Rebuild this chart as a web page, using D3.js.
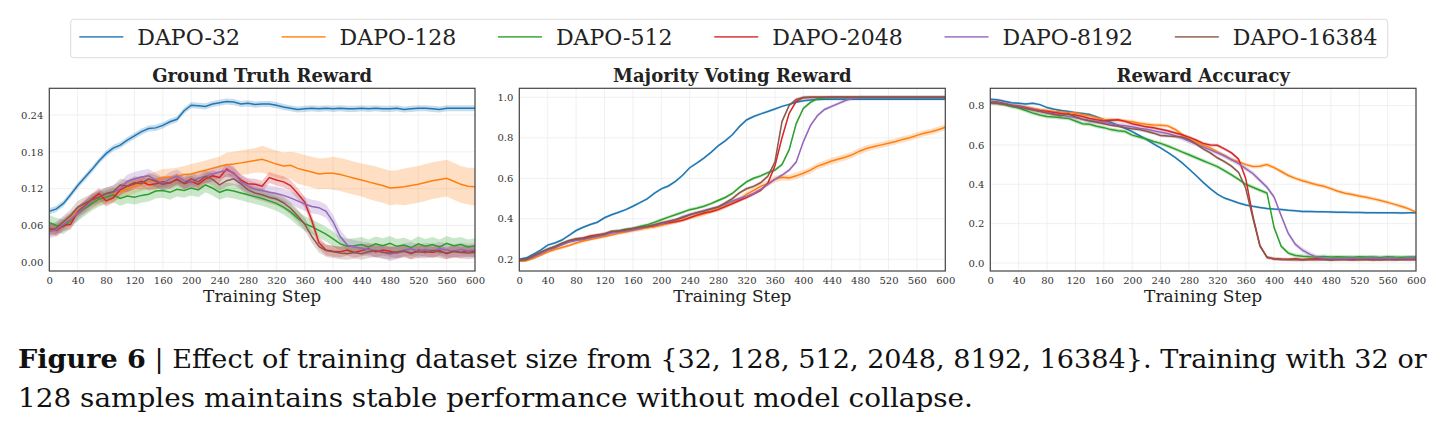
<!DOCTYPE html>
<html>
<head>
<meta charset="utf-8">
<script src="https://cdn.jsdelivr.net/npm/d3@7"></script>
<style>
body { margin: 0; background: #fff; }
svg { display: block; }
</style>
</head>
<body>
<div id="chart-area"></div>
<script>
var width = 1446;
var height = 431;

var labels = ["DAPO-32", "DAPO-128", "DAPO-512", "DAPO-2048", "DAPO-8192", "DAPO-16384"];
var colors = ["#1f77b4", "#ff7f0e", "#2ca02c", "#d62728", "#9467bd", "#8c564b"];
var steps = d3.range(0, 601, 10);
var xTicks = d3.range(0, 601, 40);

// Ground Truth Reward
var gt32 = [.083,.087,.096,.110,.125,.138,.151,.165,.177,.186,
 .191,.199,.206,.213,.218,.219,.223,.229,.233,.247,
 .256,.255,.254,.258,.260,.262,.261,.258,.259,.257,
 .258,.258,.256,.253,.251,.249,.250,.251,.250,.251,
 .250,.251,.250,.250,.251,.250,.251,.250,.250,.251,
 .249,.250,.251,.251,.250,.249,.251,.251,.251,.251,.251];
var gt128 = [.055,.052,.062,.072,.083,.090,.097,.103,.106,.110,
 .115,.120,.124,.128,.131,.134,.138,.139,.140,.143,
 .144,.147,.150,.153,.156,.159,.160,.162,.164,.166,
 .168,.164,.160,.157,.158,.153,.150,.147,.144,.145,
 .145,.143,.140,.137,.134,.131,.128,.125,.121,.122,
 .123,.125,.127,.130,.133,.135,.137,.132,.127,.124,.123];
var gt512 = [.065,.060,.058,.068,.079,.088,.096,.103,.106,.110,
 .104,.108,.106,.109,.111,.116,.117,.114,.119,.117,
 .121,.118,.126,.121,.114,.118,.116,.113,.110,.107,
 .104,.100,.096,.090,.082,.072,.063,.058,.052,.046,
 .038,.030,.026,.027,.029,.025,.030,.027,.031,.026,
 .028,.024,.030,.026,.029,.025,.031,.027,.029,.025,.027];
var gt2048 = [.055,.052,.060,.062,.082,.092,.103,.112,.100,.105,
 .118,.124,.128,.132,.126,.128,.131,.129,.136,.128,
 .132,.127,.136,.141,.138,.152,.145,.134,.128,.127,
 .124,.138,.134,.131,.125,.112,.098,.068,.032,.020,
 .018,.017,.020,.016,.019,.022,.017,.020,.018,.015,
 .019,.014,.020,.018,.016,.019,.014,.018,.016,.019,.017];
var gt8192 = [.050,.053,.062,.070,.080,.090,.100,.107,.111,.114,
 .120,.132,.136,.139,.141,.134,.128,.136,.140,.133,
 .130,.137,.140,.144,.147,.150,.146,.131,.124,.119,
 .117,.114,.112,.109,.105,.100,.095,.091,.089,.083,
 .066,.042,.028,.025,.023,.021,.019,.017,.013,.016,
 .020,.022,.018,.021,.019,.022,.020,.018,.021,.019,.020];
var gt16384 = [.052,.056,.066,.076,.090,.096,.102,.106,.112,.115,
 .126,.124,.130,.128,.136,.132,.127,.130,.134,.129,
 .136,.131,.140,.135,.126,.133,.136,.128,.118,.113,
 .110,.106,.103,.097,.088,.076,.062,.042,.026,.019,
 .017,.015,.014,.016,.014,.017,.019,.016,.015,.017,
 .018,.015,.017,.016,.019,.017,.015,.018,.016,.015,.016];

// Majority Voting Reward
var mv32 = [.200,.207,.225,.245,.270,.280,.295,.318,.342,.358,
 .372,.383,.405,.420,.432,.445,.462,.480,.498,.525,
 .548,.562,.585,.615,.652,.675,.700,.728,.760,.785,
 .815,.855,.888,.905,.918,.930,.942,.955,.965,.975,
 .983,.987,.989,.990,.990,.990,.990,.990,.990,.990,
 .990,.990,.990,.990,.990,.990,.990,.990,.990,.990,.990];
var mv128 = [.190,.192,.205,.220,.235,.248,.258,.268,.280,.290,
 .298,.305,.312,.320,.328,.335,.342,.348,.355,.360,
 .368,.376,.385,.395,.405,.415,.425,.438,.448,.462,
 .480,.497,.520,.540,.560,.575,.595,.605,.602,.612,
 .625,.640,.660,.672,.685,.695,.705,.718,.735,.748,
 .757,.765,.773,.782,.792,.800,.812,.822,.830,.840,.852];
var mv512 = [.195,.198,.215,.232,.250,.262,.278,.290,.298,.302,
 .310,.315,.322,.335,.340,.348,.352,.362,.370,.382,
 .395,.408,.420,.432,.445,.452,.462,.475,.490,.505,
 .525,.555,.582,.600,.612,.628,.640,.668,.740,.870,
 .945,.975,.993,.998,1,1,1,1,1,1,
 1,1,1,1,1,1,1,1,1,1,1];
var mv2048 = [.195,.200,.215,.230,.245,.258,.275,.290,.300,.305,
 .315,.320,.325,.335,.338,.345,.350,.355,.360,.365,
 .375,.380,.385,.392,.405,.418,.428,.435,.445,.460,
 .475,.490,.505,.522,.540,.575,.660,.800,.920,.980,
 .998,1,1,1,1,1,1,1,1,1,
 1,1,1,1,1,1,1,1,1,1,1];
var mv8192 = [.195,.200,.212,.228,.245,.258,.272,.285,.292,.298,
 .305,.312,.320,.330,.335,.340,.345,.352,.360,.368,
 .375,.385,.395,.410,.420,.430,.440,.450,.458,.472,
 .488,.500,.510,.525,.545,.570,.595,.615,.640,.680,
 .780,.860,.910,.940,.955,.970,.985,.995,.999,1,
 1,1,1,1,1,1,1,1,1,1,1];
var mv16384 = [.195,.200,.218,.235,.250,.262,.278,.292,.300,.303,
 .310,.318,.325,.338,.340,.345,.352,.358,.362,.370,
 .380,.388,.395,.405,.420,.430,.438,.448,.458,.478,
 .500,.528,.548,.560,.578,.610,.680,.880,.960,.990,
 .999,1,1,1,1,1,1,1,1,1,
 1,1,1,1,1,1,1,1,1,1,1];

// Reward Accuracy
var ra32 = [.832,.830,.822,.815,.812,.808,.812,.805,.790,.782,
 .775,.770,.764,.760,.755,.742,.728,.715,.700,.685,
 .668,.648,.628,.605,.585,.562,.538,.510,.478,.445,
 .410,.378,.350,.330,.318,.305,.295,.288,.282,.277,
 .274,.272,.268,.265,.262,.262,.261,.260,.259,.258,
 .258,.257,.257,.256,.256,.255,.255,.255,.254,.255,.255];
var ra128 = [.815,.812,.808,.800,.795,.790,.785,.778,.775,.770,
 .768,.765,.762,.755,.748,.738,.730,.728,.725,.722,
 .718,.710,.705,.702,.700,.697,.680,.655,.630,.615,
 .600,.585,.565,.545,.525,.515,.500,.490,.492,.500,
 .485,.465,.445,.430,.418,.408,.398,.390,.378,.365,
 .355,.348,.340,.334,.326,.318,.308,.298,.287,.275,.258];
var ra512 = [.815,.812,.805,.795,.788,.775,.762,.752,.745,.742,
 .738,.735,.722,.708,.705,.695,.688,.678,.672,.668,
 .650,.640,.630,.618,.608,.595,.580,.565,.550,.535,
 .520,.505,.490,.470,.448,.425,.400,.385,.370,.355,
 .180,.085,.050,.038,.034,.032,.031,.033,.030,.032,
 .031,.029,.032,.030,.031,.028,.032,.030,.029,.031,.030];
var ra2048 = [.820,.818,.810,.802,.798,.790,.782,.775,.770,.765,
 .760,.755,.752,.745,.735,.728,.722,.725,.728,.720,
 .708,.700,.692,.688,.680,.672,.662,.652,.640,.625,
 .608,.600,.598,.580,.560,.528,.430,.240,.090,.028,
 .022,.020,.019,.021,.018,.020,.022,.019,.017,.020,
 .021,.018,.020,.019,.017,.021,.020,.018,.019,.020,.019];
var ra8192 = [.820,.815,.810,.802,.795,.788,.780,.772,.765,.758,
 .752,.745,.740,.732,.725,.720,.715,.708,.702,.698,
 .692,.685,.680,.672,.665,.658,.648,.635,.620,.605,
 .590,.575,.560,.545,.525,.505,.480,.455,.420,.385,
 .335,.240,.150,.095,.065,.045,.030,.025,.022,.024,
 .023,.025,.022,.024,.026,.023,.025,.024,.022,.025,.025];
var ra16384 = [.815,.812,.808,.800,.792,.785,.778,.770,.762,.755,
 .748,.760,.742,.730,.722,.715,.708,.700,.695,.688,
 .682,.678,.670,.660,.648,.645,.643,.640,.628,.605,
 .580,.560,.535,.515,.492,.460,.380,.230,.085,.030,
 .020,.018,.017,.016,.015,.017,.016,.018,.015,.016,
 .017,.015,.016,.018,.016,.015,.017,.016,.018,.016,.017];

// band half-widths (one value, or one per 50 steps)
var gt128Spread = [.008,.010,.012,.014,.016,.020,.022,.025,.027,.028,.030,.030,.031];
var mv128Spread = [.006,.008,.008,.010,.010,.012,.014,.016,.016,.016,.015,.015,.015];
var gtBand = [0.005, gt128Spread, 0.012, 0.009, 0.011, 0.010];
var mvBand = [0.006, mv128Spread, 0.008, 0.008, 0.008, 0.008];
var raBand = [0.006, 0.010, 0.010, 0.008, 0.012, 0.008];

var gtTicks = [0, 0.06, 0.12, 0.18, 0.24];
var mvTicks = [0.2, 0.4, 0.6, 0.8, 1.0];
var raTicks = [0, 0.2, 0.4, 0.6, 0.8];

var panels = [
    { title: "Ground Truth Reward", series: [gt32, gt128, gt512, gt2048, gt8192, gt16384], bands: gtBand,
      domain: [-0.0142, 0.2835], ticks: gtTicks, fmt: d3.format(".2f"), left: 49.3, right: 475 },
    { title: "Majority Voting Reward", series: [mv32, mv128, mv512, mv2048, mv8192, mv16384], bands: mvBand,
      domain: [0.142, 1.0444], ticks: mvTicks, fmt: d3.format(".1f"), left: 519.3, right: 945.3 },
    { title: "Reward Accuracy", series: [ra32, ra128, ra512, ra2048, ra8192, ra16384], bands: raBand,
      domain: [-0.0407, 0.888], ticks: raTicks, fmt: d3.format(".1f"), left: 990.3, right: 1416 }
];
var plotTop = 88.3, plotBottom = 271;

var svg = d3.select("#chart-area")
    .append("svg")
    .attr("width", width)
    .attr("height", height)
    .style("font-family", "'DejaVu Serif', serif");

panels.forEach((p, pi) => {
    var x = d3.scaleLinear().domain([0, 600]).range([p.left, p.right]);
    var y = d3.scaleLinear().domain(p.domain).range([plotBottom, plotTop]);

    svg.append("clipPath").attr("id", "clip" + pi)
        .append("rect")
        .attr("x", p.left).attr("y", plotTop)
        .attr("width", p.right - p.left).attr("height", plotBottom - plotTop);

    // grid
    var grid = svg.append("g").attr("stroke", "#ececec").attr("stroke-width", 0.8);
    grid.selectAll(".vx").data(xTicks).enter().append("line")
        .attr("x1", d => x(d)).attr("x2", d => x(d))
        .attr("y1", plotTop).attr("y2", plotBottom);
    grid.selectAll(".hy").data(p.ticks).enter().append("line")
        .attr("x1", p.left).attr("x2", p.right)
        .attr("y1", d => y(d)).attr("y2", d => y(d));

    var g = svg.append("g").attr("clip-path", `url(#clip${pi})`);

    p.series.forEach((vals, si) => {
        var band = p.bands[si];
        var spread = i => typeof band === "number" ? band : band[Math.floor(steps[i] / 50)];
        var area = d3.area()
            .x((d, i) => x(steps[i]))
            .y0((d, i) => y(d - spread(i)))
            .y1((d, i) => y(d + spread(i)));
        g.append("path")
            .datum(vals)
            .attr("d", area)
            .attr("fill", colors[si])
            .attr("fill-opacity", 0.25);
    });
    p.series.forEach((vals, si) => {
        var line = d3.line()
            .x((d, i) => x(steps[i]))
            .y(d => y(d));
        g.append("path")
            .datum(vals)
            .attr("d", line)
            .attr("fill", "none")
            .attr("stroke", colors[si])
            .attr("stroke-width", 1.5);
    });

    // frame
    svg.append("rect")
        .attr("x", p.left).attr("y", plotTop)
        .attr("width", p.right - p.left).attr("height", plotBottom - plotTop)
        .attr("fill", "none").attr("stroke", "#444").attr("stroke-width", 1.2);

    // axes
    var xAxis = d3.axisBottom(x).tickValues(xTicks).tickSize(0).tickPadding(6);
    svg.append("g")
        .attr("transform", `translate(0, ${plotBottom})`)
        .call(xAxis)
        .call(s => s.select(".domain").remove())
        .selectAll("text")
        .attr("font-family", "'DejaVu Serif', serif")
        .attr("font-size", 10)
        .attr("fill", "#333");

    var yAxis = d3.axisLeft(y).tickValues(p.ticks).tickFormat(p.fmt).tickSize(0).tickPadding(6);
    svg.append("g")
        .attr("transform", `translate(${p.left}, 0)`)
        .call(yAxis)
        .call(s => s.select(".domain").remove())
        .selectAll("text")
        .attr("font-family", "'DejaVu Serif', serif")
        .attr("font-size", 10)
        .attr("fill", "#333");

    svg.append("text")
        .attr("x", (p.left + p.right) / 2)
        .attr("y", 82)
        .attr("text-anchor", "middle")
        .attr("font-size", 18)
        .attr("font-weight", "bold")
        .attr("fill", "#222")
        .text(p.title);

    svg.append("text")
        .attr("x", (p.left + p.right) / 2)
        .attr("y", 301.5)
        .attr("text-anchor", "middle")
        .attr("font-size", 17)
        .attr("fill", "#222")
        .text("Training Step");
});

// legend
var legendBox = svg.append("rect")
    .attr("x", 70.7).attr("y", 19.3)
    .attr("height", 38.4).attr("rx", 3)
    .attr("fill", "#fff").attr("stroke", "#dcdcdc").attr("stroke-width", 1);
var lx = 79.3;
labels.forEach((name, i) => {
    svg.append("line")
        .attr("x1", lx).attr("x2", lx + 44)
        .attr("y1", 36.8).attr("y2", 36.8)
        .attr("stroke", colors[i]).attr("stroke-width", 1.8)
        .attr("stroke-opacity", 0.8);
    var t = svg.append("text")
        .attr("x", lx + 58).attr("y", 45)
        .attr("font-size", 22)
        .attr("fill", "#222")
        .text(name);
    lx = lx + 58 + t.node().getComputedTextLength() + 41.7;
});
legendBox.attr("width", lx - 41.7 + 10.3 - 70.7);

// caption
var cap1 = svg.append("text")
    .attr("x", 18).attr("y", 368)
    .attr("font-size", 26)
    .attr("fill", "#111")
    .attr("textLength", 1408.7)
    .attr("lengthAdjust", "spacingAndGlyphs");
cap1.append("tspan").attr("font-weight", "bold").text("Figure 6");
cap1.append("tspan").text(" | Effect of training dataset size from {32, 128, 512, 2048, 8192, 16384}. Training with 32 or");

svg.append("text")
    .attr("x", 18).attr("y", 406.5)
    .attr("font-size", 26)
    .attr("fill", "#111")
    .attr("textLength", 955)
    .attr("lengthAdjust", "spacingAndGlyphs")
    .text("128 samples maintains stable performance without model collapse.");
</script>
</body>
</html>
